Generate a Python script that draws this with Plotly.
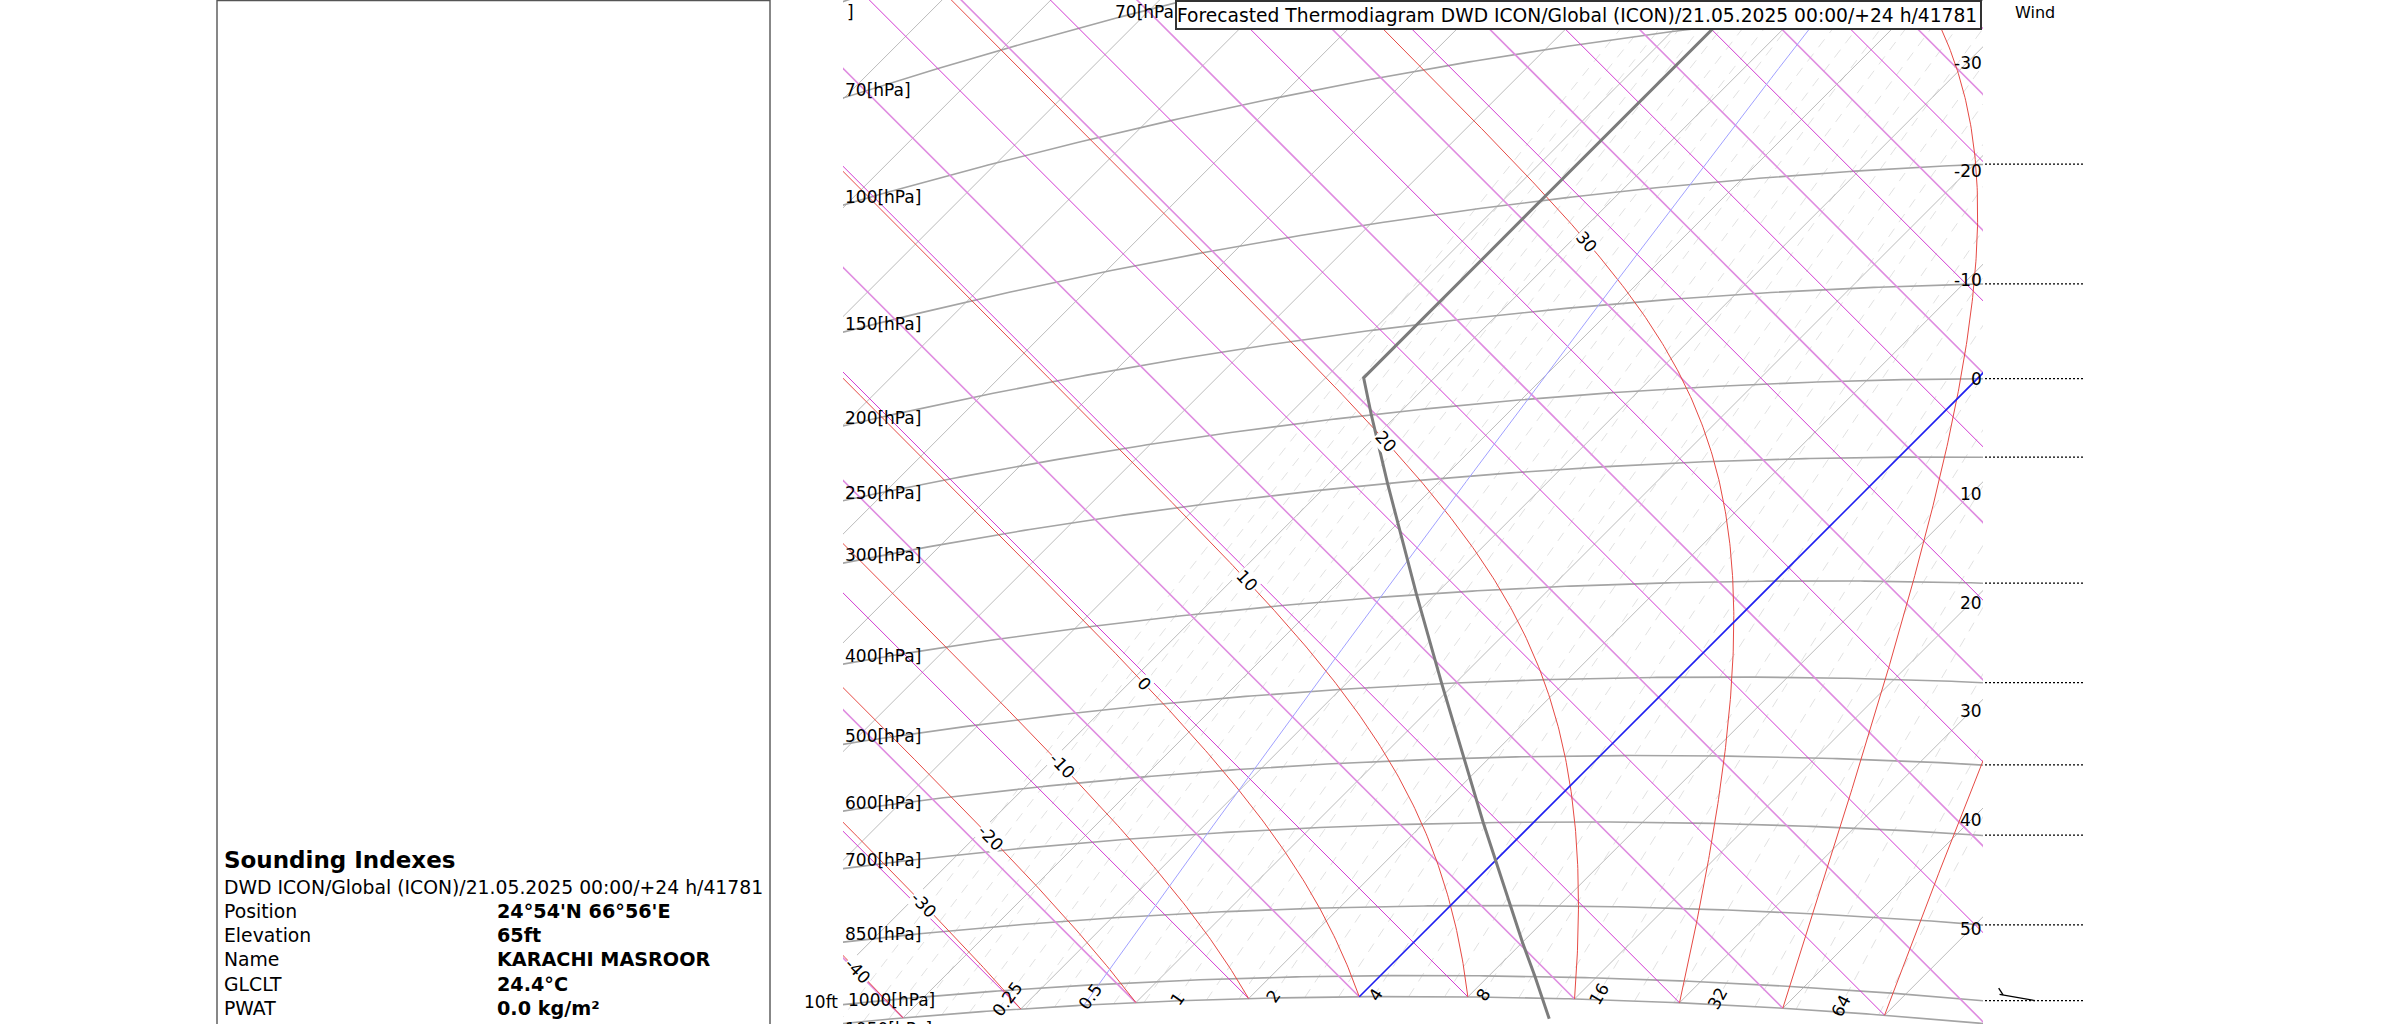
import numpy as np
import plotly.graph_objects as go

W, H = 2381, 1024

# ------------------------------------------------------------------ data
ISOBAR_LEVELS = [1050, 1000, 850, 700, 600, 500, 400, 300, 250, 200, 150, 100, 70, 50]
ISOBAR_LABEL_LEVELS = [1050, 1000, 850, 700, 600, 500, 400, 300, 250, 200, 150, 100, 70]
ISOTHERMS = list(range(-170, 71, 10))
ISOTHERM_LABELS = [-30, -20, -10, 0, 10, 20, 30, 40, 50]
DRY_BASE_T = list(range(-60, 221, 10))          # dry adiabats start on the 1050 hPa isobar
SAT_BASE_T = [-40, -30, -20, -10, 0, 10, 20, 30, 40, 50]
MIXING = [0.0625, 0.079, 0.099, 0.125, 0.157, 0.198, 0.25, 0.315, 0.397, 0.5, 0.63, 0.794,
          1, 1.26, 1.59, 2, 2.52, 3.17, 4, 5.04, 6.35, 8, 10.1, 12.7, 16, 20.2, 25.4,
          32, 40.3, 50.8, 64, 80.6]
MIXING_LABELED = [0.25, 0.5, 1, 2, 4, 8, 16, 32, 64]
MIXING_LABEL_TEXT = ["0.25", "0.5", "1", "2", "4", "8", "16", "32", "64"]
BASE_P = 1050
TOP_P = 10
HIGHLIGHT_T = 0
HIGHLIGHT_W = 0.5

PROFILE_P = [1100, 1013.25, 1000, 925, 850, 700, 500, 400, 300, 250, 226.3, 200, 150, 100, 70, 54.7]
PROFILE_T = [19.5, 15.0, 14.3, 10.0, 5.5, -4.6, -21.2, -31.7, -44.6, -52.4, -56.5, -56.5,
             -56.5, -56.5, -56.5, -56.5]

WIND_LEVELS = [1000, 850, 700, 600, 500, 400, 300, 250, 200, 150]
BARB_P, BARB_DIR, BARB_KT = 1000, 280, 5

CHART_TITLE = "Forecasted Thermodiagram DWD ICON/Global (ICON)/21.05.2025 00:00/+24 h/41781"
INFO_HEAD = "Sounding Indexes"
INFO_LINE = "DWD ICON/Global (ICON)/21.05.2025 00:00/+24 h/41781"
INFO_KEYS = ["Position", "Elevation", "Name", "GLCLT", "PWAT"]
INFO_VALS = ["24°54'N 66°56'E", "65ft", "KARACHI MASROOR", "24.4°C", "0.0 kg/m²"]

# ------------------------------------------------------------------ tephigram projection
KAPPA = 0.2857
S_LN = 277.2
X_RANGE = (-98.80, 110.83)
Y_RANGE = (-8.88, 179.42)
PLOT_L, PLOT_R = 843, 1983
FONT = "DejaVu Sans"


def tephi(T, p):
    T = np.asarray(T, float)
    p = np.asarray(p, float)
    theta = (T + 273.15) * (1000.0 / p) ** KAPPA
    v = S_LN * np.log(theta / 273.15)
    return T + v, v - T


def to_px(X, Y):
    px = PLOT_L + (X - X_RANGE[0]) / (X_RANGE[1] - X_RANGE[0]) * (PLOT_R - PLOT_L)
    py = (Y_RANGE[1] - Y) / (Y_RANGE[1] - Y_RANGE[0]) * H
    return px, py


KY = (Y_RANGE[1] - Y_RANGE[0]) / H   # y units per pixel


def es(Tc):
    return 6.112 * np.exp(17.67 * Tc / (Tc + 243.5))


def t_of_mixing(w, p):
    e = w * p / (622.0 + w)
    L = np.log(e / 6.112)
    return 243.5 * L / (17.67 - L)


def sat_adiabats(T0s, p0, p1, n=500):
    Rd, Cp, Lv, eps = 287.04, 1005.7, 2.465e6, 0.622
    lnp = np.linspace(np.log(p0), np.log(p1), n)
    T = np.array(T0s, float) + 273.15

    def f(T, lp):
        p = np.exp(lp)
        e = es(T - 273.15)
        rs = eps * e / (p - e)
        return (Rd * T + Lv * rs) / (Cp + Lv * Lv * rs * eps / (Rd * T * T))

    out = [T.copy()]
    for i in range(n - 1):
        h = lnp[i + 1] - lnp[i]
        k1 = f(T, lnp[i])
        k2 = f(T + h * k1 / 2, lnp[i] + h / 2)
        k3 = f(T + h * k2 / 2, lnp[i] + h / 2)
        k4 = f(T + h * k3, lnp[i + 1])
        T = T + h * (k1 + 2 * k2 + 2 * k3 + k4) / 6
        out.append(T.copy())
    return np.exp(lnp), np.array(out) - 273.15


def isobar_curve(p):
    T = np.linspace(-190, 110, 700)
    return tephi(T, np.full_like(T, p))


fig = go.Figure()


def add_lines(segs, color, width, dash=None, xaxis="x", opacity=1.0):
    xs, ys = [], []
    for X, Y in segs:
        xs += list(np.asarray(X)) + [None]
        ys += list(np.asarray(Y)) + [None]
    fig.add_trace(go.Scatter(x=xs, y=ys, mode="lines", xaxis=xaxis, yaxis="y",
                             line=dict(color=color, width=width, dash=dash),
                             opacity=opacity, hoverinfo="skip", showlegend=False))


# mixing ratio lines
pm = np.geomspace(BASE_P, TOP_P, 200)
segs = []
for w in MIXING:
    if w == HIGHLIGHT_W:
        continue
    segs.append(tephi(t_of_mixing(w, pm), pm))
add_lines(segs, "#d9d9d9", 0.8, dash="10px,8px")

# isotherms
segs = []
for t in ISOTHERMS:
    if t == HIGHLIGHT_T:
        continue
    segs.append(tephi([t, t], [BASE_P, 1]))
add_lines(segs, "#a9a9a9", 0.8)

# isobars
add_lines([isobar_curve(p) for p in ISOBAR_LEVELS], "#a4a4a4", 1.6)

# dry adiabats (two alternating shades)
segA, segB = [], []
for t0 in DRY_BASE_T:
    theta = (t0 + 273.15) * (1000.0 / BASE_P) ** KAPPA
    Tend = -200.0
    pend = 1000.0 * ((Tend + 273.15) / theta) ** (1 / KAPPA)
    seg = tephi([t0, Tend], [BASE_P, pend])
    (segA if t0 % 20 == 0 else segB).append(seg)
add_lines(segA, "#df8ce0", 1.6)
add_lines(segB, "#d23ad2", 1.0)

# saturated adiabats
ps, Ts = sat_adiabats(SAT_BASE_T, BASE_P, 15)
add_lines([tephi(Ts[:, i], ps) for i in range(len(SAT_BASE_T))], "#e64a44", 1.0)

# highlighted isotherm and mixing ratio
add_lines([tephi([HIGHLIGHT_T, HIGHLIGHT_T], [BASE_P, 1])], "#2020f0", 1.6)
add_lines([tephi(t_of_mixing(HIGHLIGHT_W, pm), pm)], "#a0a0ff", 1.0)

# standard atmosphere profile
PX, PY = tephi(PROFILE_T, PROFILE_P)
fig.add_trace(go.Scatter(x=PX, y=PY, mode="lines", line=dict(color="#7c7c7c", width=3),
                         hoverinfo="skip", showlegend=False))

# wind column: dotted level lines + barb
segs = []
right_y = {}
for p in WIND_LEVELS:
    X, Y = isobar_curve(p)
    yr = float(np.interp(X_RANGE[1], X, Y))
    right_y[p] = yr
    segs.append(([2, 100], [yr, yr]))
add_lines(segs, "black", 1.3, dash="2px,2px", xaxis="x2")

yb = right_y[BARB_P]
L = 36.0
ang = np.deg2rad(BARB_DIR)
ux, uy = np.sin(ang), np.cos(ang)
sx, sy = 52.0, yb
tx, ty = sx + ux * L, sy + uy * L * KY
bx, by = sx + ux * L * 0.9, sy + uy * L * 0.9 * KY
fx, fy = bx + (-0.55) * 8, by + 0.85 * 8 * KY
add_lines([([sx, tx], [sy, ty]), ([bx, fx], [by, fy])], "black", 1.3, xaxis="x2")

# ------------------------------------------------------------------ annotations
ann = []


def text(px, py, s, size=17, xanchor="left", bold=False, angle=0, bg=None, yanchor="middle"):
    d = dict(x=px / W, y=1 - py / H, xref="paper", yref="paper", text=(f"<b>{s}</b>" if bold else s),
             showarrow=False, xanchor=xanchor, yanchor=yanchor, textangle=angle,
             font=dict(family=FONT, size=size, color="black"))
    if bg:
        d.update(bgcolor=bg, borderpad=0)
    ann.append(d)


# left isobar labels
for p in ISOBAR_LABEL_LEVELS:
    X, Y = isobar_curve(p)
    yl = float(np.interp(X_RANGE[0], X, Y))
    _, py = to_px(X_RANGE[0], yl)
    if p == 1050:
        text(PLOT_L, py + 6, f"{p}[hPa]")
    elif p == 1000:
        text(PLOT_L + 3, py - 4, f"{p}[hPa]")
        text(PLOT_L - 3, py - 2, "10ft", xanchor="right")
    else:
        text(PLOT_L, py - 8, f"{p}[hPa]")

# extra label of the 70 hPa isobar near the top (partly hidden by the title box)
X70, Y70 = isobar_curve(70)
xq = X_RANGE[0] + (1113 - PLOT_L) / (PLOT_R - PLOT_L) * (X_RANGE[1] - X_RANGE[0])
_, py70 = to_px(xq, float(np.interp(xq, X70, Y70)))
text(1113, py70 - 7, "70[hPa]")
text(845, 12, "]")

# right isotherm labels
for t in ISOTHERM_LABELS:
    _, py = to_px(X_RANGE[1], X_RANGE[1] - 2 * t)
    dy = 16 if t < 0 else (6 if t == 0 else 12)
    text(PLOT_R + 1, py + dy, str(t), xanchor="right")

# saturated adiabat labels
for i, t0 in enumerate(SAT_BASE_T):
    Tc = Ts[:, i]
    k = np.argmax(Tc < -48.5)
    if k == 0:
        continue
    f = (Tc[k - 1] + 48.5) / (Tc[k - 1] - Tc[k])
    pl = np.exp(np.log(ps[k - 1]) + f * (np.log(ps[k]) - np.log(ps[k - 1])))
    X0, Y0 = tephi(-48.5, pl)
    px, py = to_px(X0, Y0)
    Xa, Ya = tephi(Tc[k - 3], ps[k - 3])
    Xb, Yb = tephi(Tc[k + 3], ps[k + 3])
    pa, qa = to_px(Xa, Ya)
    pb, qb = to_px(Xb, Yb)
    angle = np.degrees(np.arctan2(qa - qb, pa - pb))
    if py < 40 or px > PLOT_R - 10 or px < PLOT_L:
        continue
    text(px, py, str(t0), angle=float(angle), xanchor="center", bg="white")

# mixing ratio labels at the base isobar
for w, s in zip(MIXING_LABELED, MIXING_LABEL_TEXT):
    t1 = t_of_mixing(w, BASE_P)
    t2 = t_of_mixing(w, 950.0)
    p1x, p1y = to_px(*tephi(t1, BASE_P))
    p2x, p2y = to_px(*tephi(t2, 950.0))
    dx, dy = p2x - p1x, p2y - p1y
    n = np.hypot(dx, dy)
    dx, dy = dx / n, dy / n
    ang = np.degrees(np.arctan2(dy, dx))
    off = 3 + len(s) * 4.2
    text(p1x + dx * off - 2, p1y + dy * off + 4, s, angle=float(ang), xanchor="center")

# wind header
text(2035, 12, "Wind", xanchor="center", size=16)

# info panel
text(222, 860, INFO_HEAD, size=23, bold=True)
text(222, 887, INFO_LINE, size=18.8)
for j, (k, v) in enumerate(zip(INFO_KEYS, INFO_VALS)):
    y = 911.3 + j * 24.3
    text(222, y, k, size=18.8)
    text(495, y, v, size=19.2, bold=True)

# title box (drawn last, covers what lies beneath)
ann.append(dict(x=1175 / W, y=1.0, xref="paper", yref="paper", xanchor="left", yanchor="top",
                text=CHART_TITLE, showarrow=False, align="left", width=803, height=26,
                bgcolor="white", bordercolor="#333333", borderwidth=2, borderpad=0,
                font=dict(family=FONT, size=18.7, color="black")))

fig.update_layout(
    width=W, height=H, margin=dict(l=0, r=0, t=0, b=0),
    paper_bgcolor="white", plot_bgcolor="white", showlegend=False,
    font=dict(family=FONT, size=17, color="black"),
    xaxis=dict(domain=[PLOT_L / W, PLOT_R / W], range=list(X_RANGE), visible=False, fixedrange=True),
    yaxis=dict(domain=[0, 1], range=list(Y_RANGE), visible=False, fixedrange=True),
    xaxis2=dict(domain=[PLOT_R / W, 2100 / W], range=[0, 117], visible=False, anchor="y", fixedrange=True),
    annotations=ann,
    shapes=[dict(type="rect", xref="paper", yref="paper", x0=217 / W, x1=770 / W,
                 y0=-0.05, y1=1 - 0.6 / H, line=dict(color="#555555", width=1.4))],
)

fig.write_html("out.html", config={"displayModeBar": False},
               post_script="document.body.style.margin='0';document.body.style.overflow='hidden';")
